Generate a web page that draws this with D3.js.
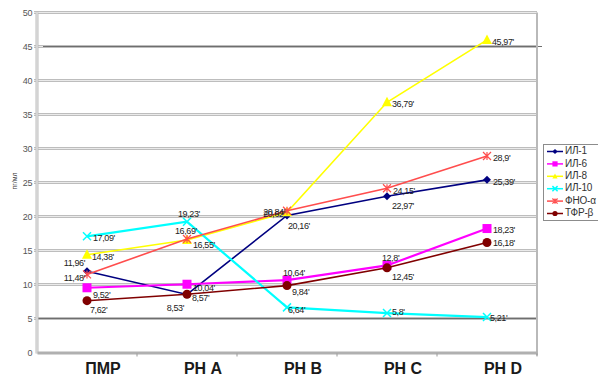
<!DOCTYPE html>
<html>
<head>
<meta charset="utf-8">
<script src="https://cdn.jsdelivr.net/npm/d3@7"></script>
<style>
  html, body { margin: 0; padding: 0; background: #fff; overflow: hidden; }
  svg { display: block; font-family: "Liberation Sans", Arial, sans-serif; }
</style>
</head>
<body>
<svg id="chart" width="598" height="380"></svg>
<script>
// Stages along the x axis
const categories = ["ПМР", "РН А", "РН В", "РН С", "РН D"];

// Cytokine levels, pg/ml
const il1  = [11.96, 8.53, 20.16, 22.97, 25.39];
const il6  = [9.52, 10.04, 10.64, 12.8, 18.23];
const il8  = [14.38, 16.55, 20.62, 36.79, 45.97];
const il10 = [17.09, 19.23, 6.64, 5.8, 5.21];
const tnf  = [11.48, 16.69, 20.84, 24.15, 28.9];
const tgf  = [7.62, 8.57, 9.84, 12.45, 16.18];

const seriesNames = ["ИЛ-1", "ИЛ-6", "ИЛ-8", "ИЛ-10", "ФНО-α", "ТФР-β"];
const yTicks = [0, 5, 10, 15, 20, 25, 30, 35, 40, 45, 50];

const series = [
  { name: seriesNames[0], values: il1,  color: "#000080", marker: "diamond" },
  { name: seriesNames[1], values: il6,  color: "#ff00ff", marker: "square" },
  { name: seriesNames[2], values: il8,  color: "#ffff00", marker: "triangle" },
  { name: seriesNames[3], values: il10, color: "#00ffff", marker: "cross" },
  { name: seriesNames[4], values: tnf,  color: "#ff4d4d", marker: "star" },
  { name: seriesNames[5], values: tgf,  color: "#800000", marker: "circle" }
];

// Value label placement per point: [dx, dy, anchor]
const labelPlacement = {
  "ИЛ-1":  [[-2, -8, "end"], [-3, 14, "end"], [1, 11, "start"], [5, 10, "start"], [6, 3, "start"]],
  "ИЛ-6":  [[6, 8, "start"], [6, 4, "start"], [-4, -7, "start"], [-5, -7, "start"], [6, 2, "start"]],
  "ИЛ-8":  [[5, 3, "start"], [6, 6, "start"], [-2, 2, "end"], [5, 2, "start"], [5, 3, "start"]],
  "ИЛ-10": [[6, 2, "start"], [-9, -7, "start"], [1, 3, "start"], [5, 0, "start"], [3, 2, "start"]],
  "ФНО-α": [[-2, 4, "end"], [-12, -7, "start"], [-2, 2, "end"], [6, 3, "start"], [6, 3, "start"]],
  "ТФР-β": [[3, 10, "start"], [5, 4, "start"], [5, 7, "start"], [5, 10, "start"], [6, 1, "start"]]
};

const svg = d3.select("#chart");
const plot = { left: 37, right: 537, top: 12.5, bottom: 352.5 };

const x = d3.scaleBand().domain(categories).range([plot.left, plot.right]).padding(0);
const y = d3.scaleLinear().domain([0, 50]).range([plot.bottom, plot.top]);
const cx = c => x(c) + x.bandwidth() / 2;

// Horizontal gridlines (double grey rule)
const grid = svg.append("g");
yTicks.filter(t => t > 0).forEach(t => {
  grid.append("line").attr("x1", plot.left - 3).attr("x2", plot.right)
    .attr("y1", y(t)).attr("y2", y(t)).attr("stroke", "#bdbdbd").attr("stroke-width", 3);
  grid.append("line").attr("x1", plot.left - 3).attr("x2", plot.right)
    .attr("y1", y(t)).attr("y2", y(t)).attr("stroke", "#eaeaea").attr("stroke-width", 1);
});
// Dark reference rules at 45 and 5
svg.append("line").attr("x1", 43).attr("x2", 542).attr("y1", y(45)).attr("y2", y(45))
  .attr("stroke", "#6e6e6e").attr("stroke-width", 1);
svg.append("line").attr("x1", plot.left).attr("x2", plot.right).attr("y1", y(5)).attr("y2", y(5))
  .attr("stroke", "#6e6e6e").attr("stroke-width", 1);

// Plot frame: left axis, right border
svg.append("line").attr("x1", plot.left).attr("x2", plot.left).attr("y1", plot.top).attr("y2", plot.bottom + 1)
  .attr("stroke", "#bdbdbd").attr("stroke-width", 3);
svg.append("line").attr("x1", plot.left).attr("x2", plot.left).attr("y1", plot.top).attr("y2", plot.bottom + 1)
  .attr("stroke", "#eaeaea").attr("stroke-width", 1);
svg.append("line").attr("x1", plot.right).attr("x2", plot.right).attr("y1", plot.top).attr("y2", plot.bottom + 3)
  .attr("stroke", "#b9b9b9").attr("stroke-width", 2);

// Y axis labels
const yAxis = d3.axisLeft(y).tickValues(yTicks).tickSize(0).tickPadding(4).tickFormat(d3.format("d"));
const yg = svg.append("g").attr("transform", `translate(${plot.left - 1},0)`).call(yAxis);
yg.select(".domain").remove();
yg.selectAll("text").attr("font-size", 9).attr("fill", "#555").attr("letter-spacing", -0.4)
  .attr("font-family", "Liberation Sans, Arial, sans-serif");

// X axis
const xAxis = d3.axisBottom(x).tickSize(0).tickPadding(0);
const xg = svg.append("g").attr("transform", `translate(0,${plot.bottom})`).call(xAxis);
xg.select(".domain").attr("stroke", "#b0b0b0").attr("stroke-width", 3);
xg.selectAll("text").attr("font-size", 16).attr("font-weight", "bold").attr("fill", "#1a1a1a")
  .attr("dx", 16).attr("dy", 21).attr("font-family", "Liberation Sans, Arial, sans-serif");
// Category separator ticks
svg.append("g").selectAll("line").data(categories)
  .join("line")
  .attr("x1", (d, i) => plot.left + x.bandwidth() * (i + 1))
  .attr("x2", (d, i) => plot.left + x.bandwidth() * (i + 1))
  .attr("y1", plot.bottom + 1).attr("y2", plot.bottom + 4)
  .attr("stroke", "#999").attr("stroke-width", 1);

// Y axis title
svg.append("text").attr("transform", "translate(17,181) rotate(-90)")
  .attr("text-anchor", "middle").attr("font-size", 7).attr("fill", "#333").text("пг/мл");

// Marker shapes
function drawMarker(g, type, color, px, py, s) {
  if (type === "diamond") {
    g.append("path").attr("d", `M${px},${py - s}L${px + s},${py}L${px},${py + s}L${px - s},${py}Z`).attr("fill", color);
  } else if (type === "square") {
    g.append("rect").attr("x", px - s).attr("y", py - s).attr("width", 2 * s).attr("height", 2 * s).attr("fill", color);
  } else if (type === "triangle") {
    g.append("path").attr("d", `M${px},${py - s * 1.1}L${px + s},${py + s * 0.8}L${px - s},${py + s * 0.8}Z`).attr("fill", color);
  } else if (type === "cross") {
    g.append("path").attr("d", `M${px - s},${py - s}L${px + s},${py + s}M${px - s},${py + s}L${px + s},${py - s}`)
      .attr("stroke", color).attr("stroke-width", 1.5).attr("fill", "none");
  } else if (type === "star") {
    g.append("path").attr("d", `M${px - s},${py - s}L${px + s},${py + s}M${px - s},${py + s}L${px + s},${py - s}M${px},${py - s}L${px},${py + s}`)
      .attr("stroke", color).attr("stroke-width", 1.2).attr("fill", "none");
  } else {
    g.append("circle").attr("cx", px).attr("cy", py).attr("r", s).attr("fill", color);
  }
}

const markerSize = { diamond: 4, square: 4.5, triangle: 5, cross: 4, star: 4, circle: 4.5 };

const line = d3.line().x((d, i) => cx(categories[i])).y(d => y(d));

const seriesLayer = svg.append("g");
series.forEach(s => {
  const g = seriesLayer.append("g");
  g.append("path").datum(s.values).attr("d", line).attr("fill", "none")
    .attr("stroke", s.color).attr("stroke-width", s.marker === "cross" ? 2.2 : (s.marker === "square" ? 2.2 : 1.6));
  s.values.forEach((v, i) => drawMarker(g, s.marker, s.color, cx(categories[i]), y(v), markerSize[s.marker]));
});

// Value labels
const fmt = v => String(v).replace(".", ",") + "'";
const labels = svg.append("g").attr("font-size", 9).attr("fill", "#222").attr("letter-spacing", -0.4);
series.forEach(s => {
  s.values.forEach((v, i) => {
    const [dx, dy, anchor] = labelPlacement[s.name][i];
    labels.append("text")
      .attr("x", cx(categories[i]) + dx)
      .attr("y", y(v) + dy)
      .attr("dominant-baseline", "middle")
      .attr("text-anchor", anchor)
      .text(fmt(v));
  });
});

// Legend (runs past the right edge of the page)
const legend = svg.append("g");
legend.append("rect").attr("x", 543.5).attr("y", 144.5).attr("width", 80).attr("height", 76)
  .attr("fill", "#fff").attr("stroke", "#8c8c8c").attr("stroke-width", 1);
series.forEach((s, i) => {
  const ly = 151.5 + i * 12.4;
  legend.append("line").attr("x1", 547).attr("x2", 563).attr("y1", ly).attr("y2", ly)
    .attr("stroke", s.color).attr("stroke-width", 1.5);
  drawMarker(legend, s.marker, s.color, 555, ly, 2.6);
  legend.append("text").attr("x", 565).attr("y", ly).attr("dominant-baseline", "middle")
    .attr("font-size", 10).attr("letter-spacing", -0.2).attr("fill", "#333").text(s.name);
});
</script>
</body>
</html>
